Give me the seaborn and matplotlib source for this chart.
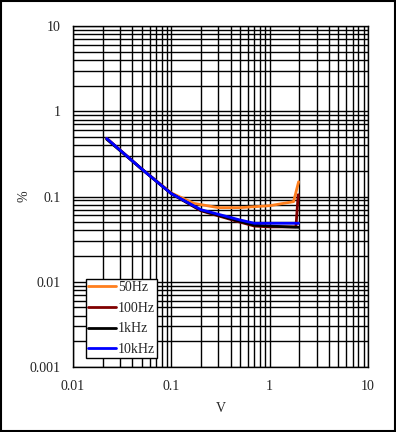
import matplotlib
matplotlib.use("Agg")
import matplotlib.pyplot as plt
import seaborn as sns
import pandas as pd
from matplotlib.patches import Rectangle

series_names = ["50Hz", "100Hz", "1kHz", "10kHz"]
colors = ["#FF7F1E", "#800000", "#000000", "#0000FF"]

x_50 = [0.022, 0.05, 0.1, 0.17, 0.3, 0.5, 1.0, 1.75, 1.97]
y_50 = [0.48, 0.21, 0.11, 0.083, 0.074, 0.074, 0.078, 0.087, 0.149]
x_100 = [0.022, 0.05, 0.1, 0.2, 0.5, 0.7, 1.0, 1.85, 1.95]
y_100 = [0.48, 0.21, 0.108, 0.068, 0.05, 0.045, 0.044, 0.044, 0.105]
x_1k = [0.022, 0.05, 0.1, 0.2, 0.5, 0.7, 1.0, 1.97]
y_1k = [0.47, 0.21, 0.108, 0.069, 0.051, 0.046, 0.045, 0.0435]
x_10k = [0.022, 0.05, 0.1, 0.2, 0.5, 0.7, 1.0, 1.97]
y_10k = [0.48, 0.21, 0.108, 0.07, 0.053, 0.0485, 0.0485, 0.0485]

xs = [x_50, x_100, x_1k, x_10k]
ys = [y_50, y_100, y_1k, y_10k]
rows = []
for name, xv, yv in zip(series_names, xs, ys):
    for i, (a, b) in enumerate(zip(xv, yv)):
        rows.append({"V": a, "%": b, "series": name, "order": i})
df = pd.DataFrame(rows)

sns.set_style("white")
plt.rcParams["font.family"] = ["Liberation Serif", "DejaVu Serif"]

fig = plt.figure(figsize=(3.96, 4.32), dpi=100)
ax = fig.add_axes([73/396, 1-367/432, 295/396, 341/432])

sns.lineplot(data=df, x="V", y="%", hue="series", hue_order=series_names,
             palette=colors, sort=False, estimator=None, units="series",
             linewidth=2, ax=ax)

ax.set_xscale("log")
ax.set_yscale("log")
ax.set_xlim(0.01, 10)
ax.set_ylim(0.001, 10)
ax.grid(True, which="both", color="black", linewidth=1)
ax.set_axisbelow(True)
for s in ax.spines.values():
    s.set_color("black")
    s.set_linewidth(1)
ax.tick_params(which="both", length=0, labelsize=10, colors="#222222", pad=9)
ax.set_xticks([0.01, 0.1, 1, 10])
ax.set_xticklabels(["0.01", "0.1", "1", "10"])
ax.set_yticks([0.001, 0.01, 0.1, 1, 10])
ax.set_yticklabels(["0.001", "0.01", "0.1", "1", "10"])
ax.set_xlabel("V", fontsize=10, labelpad=7)
ax.set_ylabel("%", fontsize=10, labelpad=-1)

leg = ax.legend(loc="lower left", bbox_to_anchor=(0.044, 0.026), frameon=True,
                fancybox=False, edgecolor="black", framealpha=1, fontsize=10,
                borderaxespad=0, handlelength=2.0, labelspacing=0.55,
                handletextpad=0.15, borderpad=0.15)
leg.get_frame().set_linewidth(1)

fig.patches.append(Rectangle((0.002, 0.002), 0.996, 0.996, transform=fig.transFigure,
                             fill=False, edgecolor="black", linewidth=1.5))
fig.savefig("out.png", dpi=100)
